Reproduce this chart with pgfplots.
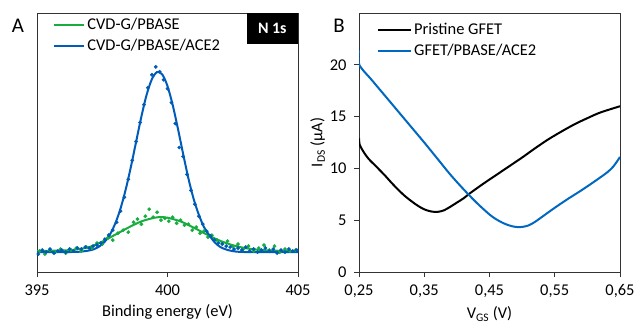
\documentclass[border=0pt]{standalone}
\usepackage{pgfplots}
\pgfplotsset{compat=1.18}
\usepackage{fontspec}
\setmainfont{Carlito}
\definecolor{gA}{RGB}{24,172,64}
\definecolor{bA}{RGB}{0,92,184}
\definecolor{bB}{RGB}{0,104,192}
\begin{document}
\begin{tikzpicture}[x=1bp,y=1bp]
\useasboundingbox (0,0) rectangle (635,323);
\pgfplotsset{every axis/.append style={
  font=\fontsize{16.5}{19}\selectfont,
  /pgf/number format/assume math mode=true,
  scale only axis, width=261bp, height=259bp,
  axis line style={black!80, line width=0.9bp},
  tick style={black!80, line width=0.9bp},
  tick align=outside, major tick length=5bp,
  legend cell align=left,
  xticklabel style={yshift=-4bp},
  xlabel style={yshift=-2bp},
}}
% Panel A
\begin{axis}[
  at={(37bp,51bp)}, anchor=south west,
  xmin=395, xmax=405, ymin=-20, ymax=240,
  xtick={395,400,405}, ytick=\empty, xtick pos=bottom,
  xlabel={Binding energy (eV)},
  legend image code/.code={\draw[#1] (0bp,0bp) -- (30bp,0bp);},
  legend style={at={(0.062,0.99)}, anchor=north west, draw=none, fill=none,
    inner sep=0pt, row sep=2bp, nodes={inner sep=2bp, text height=11.5bp, text depth=3.5bp}},
]
\addplot[only marks, mark=*, mark size=1.7bp, gA, forget plot] coordinates {
(395.1,1) (395.3,-2) (395.5,2) (395.7,0) (395.9,3) (396.1,-1) (396.3,2) (396.5,4)
(396.7,1) (396.9,5) (397.1,4) (397.3,9) (397.5,8) (397.7,14) (397.9,12) (398.1,19)
(398.3,22) (398.5,20) (398.7,30) (398.85,33) (399.0,28) (399.15,36) (399.3,43) (399.45,35)
(399.6,40) (399.75,32) (399.9,34) (400.05,31) (400.2,35) (400.35,29) (400.5,32) (400.65,27)
(400.8,28) (400.95,22) (401.1,25) (401.25,19) (401.4,21) (401.55,15) (401.7,17) (401.9,12)
(402.1,9) (402.3,11) (402.5,6) (402.7,8) (402.9,3) (403.1,6) (403.3,1) (403.5,4)
(403.7,7) (403.9,2) (404.1,6) (404.3,0) (404.5,3) (404.7,1) (404.9,2)
};
\addplot[only marks, mark=*, mark size=1.7bp, bA, forget plot] coordinates {
(395.05,-2) (395.2,2) (395.35,0) (395.5,3) (395.65,-1) (395.8,1) (395.95,2) (396.1,0)
(396.25,3) (396.4,1) (396.55,4) (396.7,3) (396.85,5) (397.0,4) (397.15,6) (397.3,7)
(397.45,9) (397.6,13) (397.75,17) (397.9,22) (398.05,30) (398.2,41) (398.35,55) (398.5,73)
(398.65,92) (398.8,111) (398.95,130) (399.1,148) (399.25,165) (399.4,178) (399.55,186) (399.7,181)
(399.85,173) (400.0,164) (400.15,150) (400.3,129) (400.45,105) (400.6,96) (400.75,78) (400.9,62)
(401.05,48) (401.2,36) (401.35,28) (401.5,21) (401.65,16) (401.8,12) (401.95,9) (402.1,8)
(402.25,6) (402.4,5) (402.55,3) (402.7,4) (402.85,2) (403.0,5) (403.15,1) (403.3,3)
(403.45,0) (403.6,2) (403.75,4) (403.9,1) (404.05,3) (404.2,-1) (404.35,2) (404.5,0)
(404.65,3) (404.8,1) (404.95,2)
};
\addplot[gA, line width=2bp, smooth] coordinates {
(395,1.2) (395.5,1.3) (396.0,1.6) (396.5,2.6) (397.0,5.0) (397.5,10.5) (398.0,17.5)
(398.5,24.6) (399.0,30.8) (399.5,34.5) (399.75,35) (400.0,34.5) (400.5,30.8) (401.0,24.6)
(401.5,17.7) (402.0,11.5) (402.5,6.9) (403.0,3.9) (403.5,2.3) (404.0,1.5) (404.5,1.2) (405,1.1)
};
\addlegendentry{CVD-G/PBASE}
\addplot[bA, line width=2bp, smooth] coordinates {
(395,0) (396,0) (396.6,0.3) (397.0,1.6) (397.2,3.1) (397.4,5.9) (397.6,10.6) (397.8,17.9)
(398.0,28.8) (398.2,43.7) (398.4,63.0) (398.6,85.9) (398.8,111.1) (399.0,136.1) (399.2,157.9)
(399.4,173.5) (399.6,180.7) (399.8,178.3) (400.0,166.6) (400.2,147.5) (400.4,123.8) (400.6,98.4)
(400.8,74.1) (401.0,53.5) (401.2,37.5) (401.4,25) (401.6,17) (401.8,10) (402.0,5.5) (402.2,3)
(402.4,1.5) (402.6,0.6) (402.8,0.2) (403.2,0) (405,0)
};
\addlegendentry{CVD-G/PBASE/ACE2}
\node[fill=black, text=white, font=\bfseries\fontsize{16}{18}\selectfont, minimum width=51bp, minimum height=31bp, anchor=north east, inner sep=0pt] at (rel axis cs:1,1) {N 1s};
\end{axis}
% Panel B
\begin{axis}[
  at={(359bp,51bp)}, anchor=south west,
  xmin=0.25, xmax=0.65, ymin=0, ymax=25,
  xtick={0.25,0.35,0.45,0.55,0.65}, xticklabels={{0,25},{0,35},{0,45},{0,55},{0,65}},
  ytick={0,5,10,15,20}, xtick pos=bottom, ytick pos=left,
  yticklabel style={xshift=-4bp},
  xlabel={V\textsubscript{GS} (V)}, ylabel={I\textsubscript{DS} (μA)},
  ylabel style={yshift=-2bp},
  legend image code/.code={\draw[#1] (0bp,0bp) -- (25bp,0bp); \path (0bp,0bp) -- (33bp,0bp);},
  legend style={at={(0.069,0.97)}, anchor=north west, draw=none, fill=none,
    inner sep=0pt, row sep=2bp, nodes={inner sep=2bp, text height=11.5bp, text depth=3.5bp}},
]
\addplot[black, line width=2bp, smooth] coordinates {
(0.25,12.9) (0.251,12.3) (0.255,11.8) (0.259,11.4) (0.265,10.9) (0.2745,10.3) (0.28,9.95)
(0.29,9.3) (0.30,8.6) (0.31,7.95) (0.32,7.35) (0.33,6.85) (0.34,6.4) (0.35,6.05) (0.36,5.85)
(0.37,5.8) (0.38,5.95) (0.39,6.3) (0.40,6.7) (0.41,7.1) (0.42,7.6) (0.44,8.5) (0.46,9.35)
(0.48,10.2) (0.50,11.05) (0.52,11.95) (0.54,12.8) (0.56,13.55) (0.58,14.25) (0.60,14.85)
(0.62,15.4) (0.65,16.0)
};
\addlegendentry{Pristine GFET}
\addplot[bB, line width=2bp, smooth] coordinates {
(0.25,21.4) (0.2505,20.0) (0.27,18.5) (0.29,17.0) (0.31,15.5) (0.33,14.0) (0.35,12.5)
(0.37,10.95) (0.39,9.4) (0.41,8.0) (0.43,6.7) (0.45,5.55) (0.46,5.1) (0.47,4.75) (0.48,4.5)
(0.49,4.35) (0.50,4.35) (0.51,4.5) (0.52,4.85) (0.53,5.3) (0.55,6.2) (0.57,7.05) (0.59,7.85)
(0.61,8.7) (0.63,9.6) (0.64,10.2) (0.65,11.1)
};
\addlegendentry{GFET/PBASE/ACE2}
\end{axis}
\node[font=\fontsize{21}{23}\selectfont] at (18,297) {A};
\node[font=\fontsize{21}{23}\selectfont] at (339,297) {B};
\end{tikzpicture}
\end{document}
